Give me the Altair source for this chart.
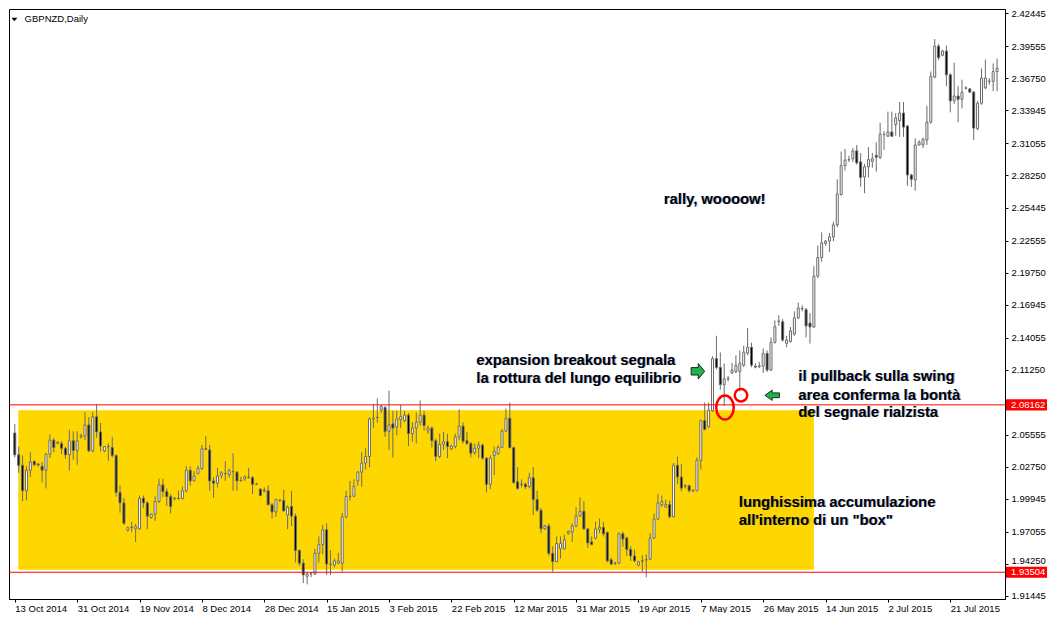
import json
import altair as alt
import pandas as pd

# ---------------- data (GBPNZD daily candles) ----------------
OPEN = [
    2.0570, 2.0379, 2.0287, 2.0064, 2.0244, 2.0322, 2.0298, 2.0279, 2.0244, 2.0384,
    2.0507, 2.0482, 2.0478, 2.0436, 2.0379, 2.0502, 2.0416, 2.0534, 2.0544, 2.0641,
    2.0413, 2.0712, 2.0579, 2.0413, 2.0448, 2.0442, 2.0373, 2.0050, 1.9958, 1.9718,
    1.9746, 1.9730, 1.9730, 1.9999, 1.9958, 1.9830, 1.9859, 1.9970, 2.0116, 2.0056,
    2.0013, 1.9994, 1.9999, 1.9996, 2.0064, 2.0244, 2.0150, 2.0216, 2.0258, 2.0433,
    2.0421, 2.0150, 2.0130, 2.0198, 2.0213, 2.0207, 2.0230, 2.0227, 2.0155, 2.0167,
    2.0184, 2.0178, 2.0121, 2.0078, 2.0067, 2.0064, 1.9941, 1.9879, 1.9979, 1.9979,
    1.9850, 1.9927, 1.9842, 1.9542, 1.9430, 1.9315, 1.9336, 1.9336, 1.9516, 1.9593,
    1.9722, 1.9422, 1.9413, 1.9430, 1.9430, 1.9836, 2.0013, 2.0016, 2.0150, 2.0227,
    2.0307, 2.0364, 2.0693, 2.0707, 2.0772, 2.0793, 2.0584, 2.0650, 2.0622, 2.0687,
    2.0678, 2.0727, 2.0564, 2.0613, 2.0664, 2.0727, 2.0592, 2.0613, 2.0502, 2.0364,
    2.0470, 2.0493, 2.0430, 2.0451, 2.0536, 2.0630, 2.0502, 2.0478, 2.0399, 2.0436,
    2.0464, 2.0350, 2.0121, 2.0373, 2.0387, 2.0444, 2.0587, 2.0699, 2.0441, 2.0142,
    2.0121, 2.0121, 2.0099, 2.0178, 1.9987, 1.9893, 1.9730, 1.9756, 1.9516, 1.9444,
    1.9556, 1.9556, 1.9693, 1.9701, 1.9756, 1.9844, 1.9885, 1.9730, 1.9616, 1.9650,
    1.9727, 1.9744, 1.9699, 1.9459, 1.9430, 1.9430, 1.9687, 1.9650, 1.9550, 1.9493,
    1.9413, 1.9450, 1.9459, 1.9465, 1.9650, 1.9816, 1.9941, 1.9921, 1.9944, 1.9836,
    2.0287, 2.0184, 2.0107, 2.0107, 2.0064, 2.0064, 2.0330, 2.0678, 2.0624, 2.0764,
    2.1221, 2.1144, 2.0993, 2.1044, 2.1095, 2.1107, 2.1107, 2.1164, 2.1270, 2.1321,
    2.1155, 2.1150, 2.1155, 2.1267, 2.1121, 2.1364, 2.1545, 2.1544, 2.1355, 2.1370,
    2.1436, 2.1578, 2.1661, 2.1650, 2.1533, 2.1498, 2.1944, 2.2107, 2.2229, 2.2250,
    2.2287, 2.2392, 2.2658, 2.2912, 2.2964, 2.2970, 2.3041, 2.2944, 2.2812, 2.2901,
    2.2949, 2.3001, 2.2983, 2.3184, 2.3169, 2.3206, 2.3270, 2.3306, 2.3372, 2.3258,
    2.2829, 2.2786, 2.3092, 2.3092, 2.3135, 2.3292, 2.3686, 2.3958, 2.3878, 2.3915,
    2.3707, 2.3478, 2.3521, 2.3492, 2.3592, 2.3583, 2.3555, 2.3235, 2.3458, 2.3592,
    2.3649, 2.3649, 2.3735,
]
HIGH = [
    2.0650, 2.0451, 2.0373, 2.0279, 2.0402, 2.0327, 2.0307, 2.0316, 2.0393, 2.0556,
    2.0527, 2.0498, 2.0498, 2.0451, 2.0599, 2.0584, 2.0584, 2.0564, 2.0755, 2.0710,
    2.0755, 2.0821, 2.0659, 2.0451, 2.0479, 2.0536, 2.0384, 2.0112, 2.0001, 1.9750,
    1.9793, 1.9773, 2.0022, 2.0022, 1.9973, 1.9864, 2.0016, 2.0170, 2.0170, 2.0084,
    2.0036, 2.0007, 2.0064, 2.0101, 2.0279, 2.0279, 2.0236, 2.0284, 2.0464, 2.0544,
    2.0464, 2.0184, 2.0264, 2.0236, 2.0322, 2.0258, 2.0393, 2.0236, 2.0187, 2.0198,
    2.0264, 2.0193, 2.0136, 2.0087, 2.0093, 2.0112, 1.9956, 1.9993, 1.9993, 2.0073,
    1.9936, 2.0064, 1.9864, 1.9550, 1.9464, 1.9350, 1.9350, 1.9556, 1.9664, 1.9765,
    1.9778, 1.9544, 1.9470, 1.9521, 1.9870, 2.0064, 2.0150, 2.0164, 2.0236, 2.0402,
    2.0436, 2.0707, 2.0821, 2.0873, 2.0815, 2.0807, 2.0941, 2.0764, 2.0764, 2.0815,
    2.0764, 2.0744, 2.0664, 2.0750, 2.0855, 2.0764, 2.0635, 2.0627, 2.0521, 2.0564,
    2.0579, 2.0564, 2.0464, 2.0564, 2.0778, 2.0664, 2.0579, 2.0493, 2.0478, 2.0493,
    2.0478, 2.0356, 2.0373, 2.0451, 2.0464, 2.0607, 2.0784, 2.0836, 2.0451, 2.0270,
    2.0164, 2.0136, 2.0221, 2.0270, 2.0064, 1.9913, 1.9765, 1.9778, 1.9579, 1.9664,
    1.9664, 1.9679, 1.9716, 1.9778, 1.9921, 2.0007, 1.9973, 1.9735, 1.9664, 1.9793,
    1.9821, 1.9793, 1.9707, 1.9478, 1.9441, 1.9699, 1.9707, 1.9664, 1.9579, 1.9550,
    1.9450, 1.9499, 1.9507, 1.9693, 1.9864, 2.0036, 2.0022, 1.9987, 1.9979, 2.0307,
    2.0364, 2.0298, 2.0121, 2.0116, 2.0078, 2.0356, 2.0687, 2.0838, 2.0836, 2.1241,
    2.1421, 2.1275, 2.1179, 2.1070, 2.1184, 2.1250, 2.1293, 2.1335, 2.1490, 2.1361,
    2.1179, 2.1192, 2.1310, 2.1293, 2.1407, 2.1556, 2.1601, 2.1567, 2.1421, 2.1498,
    2.1635, 2.1712, 2.1687, 2.1664, 2.1618, 2.2030, 2.2212, 2.2327, 2.2261, 2.2321,
    2.2421, 2.2792, 2.3035, 2.3058, 2.2998, 2.3064, 2.3092, 2.3021, 2.2927, 2.3073,
    2.3021, 2.3115, 2.3287, 2.3212, 2.3384, 2.3384, 2.3372, 2.3469, 2.3469, 2.3270,
    2.2841, 2.3150, 2.3135, 2.3155, 2.3435, 2.3735, 2.4020, 2.3977, 2.3926, 2.3964,
    2.3720, 2.3812, 2.3606, 2.3664, 2.3606, 2.3592, 2.3564, 2.3478, 2.3763, 2.3840,
    2.3678, 2.3806, 2.3849,
]
LOW = [
    2.0356, 2.0221, 1.9973, 1.9979, 2.0184, 2.0279, 2.0273, 2.0136, 2.0084, 2.0350,
    2.0402, 2.0470, 2.0384, 2.0344, 2.0241, 2.0336, 2.0292, 2.0521, 2.0507, 2.0402,
    2.0402, 2.0527, 2.0407, 2.0402, 2.0327, 2.0356, 2.0013, 1.9872, 1.9765, 1.9707,
    1.9701, 1.9616, 1.9725, 1.9915, 1.9727, 1.9821, 1.9801, 1.9956, 2.0007, 1.9930,
    1.9864, 1.9979, 1.9987, 1.9987, 2.0050, 2.0107, 2.0148, 2.0207, 2.0244, 2.0421,
    2.0064, 2.0001, 2.0093, 2.0172, 2.0150, 2.0178, 2.0064, 2.0064, 2.0142, 2.0150,
    2.0170, 2.0036, 2.0116, 2.0016, 2.0050, 1.9939, 1.9821, 1.9836, 1.9964, 1.9885,
    1.9727, 1.9756, 1.9436, 1.9407, 1.9255, 1.9244, 1.9307, 1.9327, 1.9436, 1.9507,
    1.9327, 1.9327, 1.9393, 1.9422, 1.9356, 1.9821, 1.9979, 2.0007, 2.0107, 2.0099,
    2.0250, 2.0270, 2.0613, 2.0659, 2.0744, 2.0536, 2.0421, 2.0356, 2.0550, 2.0613,
    2.0664, 2.0455, 2.0493, 2.0478, 2.0635, 2.0592, 2.0564, 2.0442, 2.0322, 2.0350,
    2.0421, 2.0350, 2.0421, 2.0436, 2.0507, 2.0478, 2.0464, 2.0356, 2.0378, 2.0350,
    2.0335, 2.0050, 2.0078, 2.0202, 2.0378, 2.0436, 2.0579, 2.0436, 2.0121, 2.0073,
    2.0093, 2.0078, 2.0084, 1.9850, 1.9879, 1.9693, 1.9722, 1.9493, 1.9356, 1.9436,
    1.9470, 1.9550, 1.9679, 1.9616, 1.9744, 1.9836, 1.9722, 1.9564, 1.9585, 1.9636,
    1.9693, 1.9664, 1.9436, 1.9413, 1.9413, 1.9422, 1.9573, 1.9493, 1.9450, 1.9436,
    1.9401, 1.9356, 1.9307, 1.9456, 1.9641, 1.9807, 1.9921, 1.9913, 1.9821, 1.9830,
    2.0121, 2.0058, 2.0084, 2.0050, 2.0058, 2.0058, 2.0250, 2.0592, 2.0616, 2.0755,
    2.1127, 2.0950, 2.0807, 2.1021, 2.1087, 2.1095, 2.0935, 2.1147, 2.1250, 2.1147,
    2.1136, 2.1138, 2.1095, 2.1104, 2.1113, 2.1353, 2.1507, 2.1370, 2.1321, 2.1361,
    2.1421, 2.1567, 2.1635, 2.1406, 2.1353, 2.1490, 2.1927, 2.2070, 2.2210, 2.2156,
    2.2250, 2.2372, 2.2649, 2.2869, 2.2944, 2.2944, 2.2921, 2.2726, 2.2670, 2.2807,
    2.2893, 2.2858, 2.2970, 2.3049, 2.3165, 2.3163, 2.3172, 2.3163, 2.3163, 2.2735,
    2.2726, 2.2692, 2.3086, 2.3067, 2.3092, 2.3278, 2.3678, 2.3835, 2.3869, 2.3606,
    2.3378, 2.3452, 2.3292, 2.3412, 2.3578, 2.3549, 2.3135, 2.3221, 2.3444, 2.3581,
    2.3621, 2.3564, 2.3564,
]
CLOSE = [
    2.0379, 2.0287, 2.0064, 2.0244, 2.0316, 2.0292, 2.0290, 2.0244, 2.0384, 2.0507,
    2.0442, 2.0487, 2.0436, 2.0379, 2.0502, 2.0416, 2.0502, 2.0544, 2.0641, 2.0413,
    2.0712, 2.0579, 2.0456, 2.0451, 2.0453, 2.0373, 2.0050, 1.9958, 1.9778, 1.9741,
    1.9741, 1.9750, 1.9999, 1.9958, 1.9842, 1.9859, 1.9970, 2.0116, 2.0056, 2.0013,
    1.9927, 1.9999, 1.9996, 2.0064, 2.0244, 2.0150, 2.0193, 2.0258, 2.0430, 2.0427,
    2.0150, 2.0130, 2.0193, 2.0221, 2.0215, 2.0241, 2.0232, 2.0150, 2.0153, 2.0187,
    2.0182, 2.0121, 2.0119, 2.0022, 2.0061, 1.9941, 1.9879, 1.9987, 1.9981, 1.9887,
    1.9921, 1.9842, 1.9542, 1.9430, 1.9327, 1.9336, 1.9338, 1.9516, 1.9593, 1.9722,
    1.9422, 1.9420, 1.9450, 1.9450, 1.9836, 2.0013, 2.0016, 2.0101, 2.0227, 2.0307,
    2.0364, 2.0693, 2.0699, 2.0705, 2.0802, 2.0584, 2.0641, 2.0613, 2.0693, 2.0712,
    2.0727, 2.0564, 2.0613, 2.0664, 2.0727, 2.0635, 2.0613, 2.0502, 2.0364, 2.0470,
    2.0493, 2.0451, 2.0456, 2.0536, 2.0630, 2.0498, 2.0478, 2.0393, 2.0436, 2.0464,
    2.0350, 2.0121, 2.0350, 2.0407, 2.0444, 2.0587, 2.0699, 2.0441, 2.0136, 2.0084,
    2.0119, 2.0099, 2.0178, 1.9987, 1.9893, 1.9730, 1.9756, 1.9516, 1.9444, 1.9602,
    1.9602, 1.9636, 1.9707, 1.9756, 1.9842, 1.9885, 1.9730, 1.9607, 1.9593, 1.9730,
    1.9744, 1.9687, 1.9450, 1.9422, 1.9432, 1.9687, 1.9641, 1.9550, 1.9493, 1.9450,
    1.9441, 1.9448, 1.9461, 1.9650, 1.9816, 1.9958, 1.9970, 1.9944, 1.9836, 2.0287,
    2.0184, 2.0087, 2.0105, 2.0064, 2.0062, 2.0330, 2.0678, 2.0601, 2.0770, 2.1221,
    2.1144, 2.0993, 2.1044, 2.1048, 2.1121, 2.1164, 2.1181, 2.1278, 2.1321, 2.1164,
    2.1147, 2.1158, 2.1267, 2.1121, 2.1364, 2.1501, 2.1550, 2.1384, 2.1384, 2.1464,
    2.1578, 2.1664, 2.1657, 2.1507, 2.1498, 2.1944, 2.2107, 2.2235, 2.2250, 2.2287,
    2.2392, 2.2664, 2.2912, 2.2961, 2.2962, 2.3041, 2.2935, 2.2807, 2.2901, 2.2964,
    2.2972, 2.2985, 2.3187, 2.3182, 2.3206, 2.3169, 2.3330, 2.3372, 2.3249, 2.2829,
    2.2792, 2.3092, 2.3115, 2.3144, 2.3292, 2.3692, 2.3958, 2.3857, 2.3915, 2.3707,
    2.3478, 2.3521, 2.3492, 2.3555, 2.3590, 2.3555, 2.3240, 2.3458, 2.3678, 2.3678,
    2.3651, 2.3735, 2.3763,
]

CHART_TITLE = "GBPNZD,Daily"
DATE_BAR_INDEX = [0, 16, 32, 48, 64, 80, 96, 112, 128, 144, 160, 176, 192, 208, 224, 240]
DATE_LABELS = ["13 Oct 2014", "31 Oct 2014", "19 Nov 2014", "8 Dec 2014", "28 Dec 2014",
               "15 Jan 2015", "3 Feb 2015", "22 Feb 2015", "12 Mar 2015", "31 Mar 2015",
               "19 Apr 2015", "7 May 2015", "26 May 2015", "14 Jun 2015", "2 Jul 2015",
               "21 Jul 2015"]
# 2.08445 is hidden behind the red 2.08162 price tag in the original, so it is omitted
PRICE_TICKS = [2.42445, 2.39555, 2.36750, 2.33945, 2.31055, 2.28250, 2.25445, 2.22555,
               2.19750, 2.16945, 2.14055, 2.11250, 2.05555, 2.02750, 1.99945,
               1.97055, 1.94250, 1.91445]
LEVELS = [2.08162, 1.93504]

# accumulation box: bar index range and price range
BOX_I = [0.9, 205.0]
BOX_P = [1.93725, 2.07694]

NOTE_TEXT = ["rally, woooow!",
             "expansion breakout segnala", "la rottura del lungo equilibrio",
             "il pullback sulla swing", "area conferma la bontà", "del segnale rialzista",
             "lunghissima accumulazione", 'all\'interno di un "box"']
NOTE_I = [166.5, 118.4, 118.4, 201.0, 201.0, 201.0, 185.75, 185.75]
NOTE_P = [2.2612, 2.1198, 2.1040, 2.1057, 2.0898, 2.0744, 1.9960, 1.9797]

ARROW_RIGHT = [(175.25, 2.1110)]
ARROW_LEFT = [(194.3, 2.0900)]
ELLIPSE_BIG = [(182.2, 2.0793)]
CIRCLE_SMALL = [(186.3, 2.0900)]

# ---------------- chart ----------------
W, H = 996, 590
FONT = "Liberation Sans"
GRAY = "#6b6b6b"

df = pd.DataFrame({"i": list(range(len(OPEN))), "open": OPEN, "high": HIGH,
                   "low": LOW, "close": CLOSE})

xs = alt.Scale(domain=[-0.2, 252.75], nice=False, zero=False)
ys = alt.Scale(domain=[1.9116, 2.4283], nice=False, zero=False)

label_expr = f"{json.dumps(DATE_LABELS)}[indexof({json.dumps(DATE_BAR_INDEX)}, datum.value)]"

x_axis = alt.Axis(values=DATE_BAR_INDEX, labelExpr=label_expr, orient="bottom", title=None,
                  grid=False, labelAlign="left", labelFont=FONT, labelFontSize=9.5,
                  labelColor="black", tickColor="black", tickSize=3, domainColor="black",
                  labelPadding=1, labelFlush=False, labelOverlap=False, labelBound=False)
# the tick label just above the red 1.93504 tag sits on its baseline so the tag does not hide it
y_axis = alt.Axis(values=PRICE_TICKS, format=".5f", orient="right", title=None, grid=False,
                  labelFont=FONT, labelFontSize=9.5, labelColor="black", tickColor="black",
                  tickSize=3, domainColor="black", labelPadding=3, labelOverlap=False,
                  labelFlush=False,
                  labelBaseline={"condition": {"test": "abs(datum.value - 1.9425) < 0.00001",
                                               "value": "alphabetic"},
                                 "value": "middle"})


def X(field, **kw):
    return alt.X(field, scale=xs, axis=x_axis, **kw)


def Y(field, **kw):
    return alt.Y(field, scale=ys, axis=y_axis, **kw)


box_df = pd.DataFrame({"x0": [BOX_I[0]], "x1": [BOX_I[1]], "y0": [BOX_P[0]], "y1": [BOX_P[1]]})
box = alt.Chart(box_df).mark_rect(color="#FFD700").encode(
    x=X("x0:Q"), x2="x1:Q", y=Y("y0:Q"), y2="y1:Q")

base = alt.Chart(df)
wicks = base.mark_rule(color=GRAY, strokeWidth=1, clip=True).encode(
    x=X("i:Q"), y=Y("low:Q"), y2="high:Q")
bodies = base.mark_bar(size=2, stroke=GRAY, strokeWidth=1, clip=True).encode(
    x=X("i:Q"), y=Y("open:Q"), y2="close:Q",
    fill=alt.condition("datum.close >= datum.open", alt.value("white"), alt.value("black")))

lvl_df = pd.DataFrame({"price": LEVELS, "label": [f"{v:.5f}" for v in LEVELS]})
lines = alt.Chart(lvl_df).mark_rule(color="#ff0000", strokeWidth=1).encode(y=Y("price:Q"))

RECT = "M-1,-0.27L1,-0.27L1,0.27L-1,0.27Z"
tag_box = alt.Chart(lvl_df).mark_point(shape=RECT, size=41 * 41, filled=True, fill="#ff0000",
                                        strokeWidth=0, opacity=1).encode(
    x=alt.value(W + 21.5), y=Y("price:Q"))
tag_text = alt.Chart(lvl_df).mark_text(align="left", baseline="middle", font=FONT,
                                       fontSize=9.5, color="white").encode(
    x=alt.value(W + 6), y=Y("price:Q"), text="label:N")


def pts(lst):
    return pd.DataFrame({"i": [p[0] for p in lst], "p": [p[1] for p in lst]})


ARROW_R_PATH = "M-1,-0.55L0.05,-0.55L0.05,-1.15L1,0L0.05,1.15L0.05,0.55L-1,0.55Z"
ARROW_L_PATH = "M1,-0.33L0,-0.33L0,-0.7L-1,0L0,0.7L0,0.33L1,0.33Z"
ELLIPSE_PATH = "M0,-1.38A1,1.38 0 1,1 0,1.38A1,1.38 0 1,1 0,-1.38Z"

arrow_r = alt.Chart(pts(ARROW_RIGHT)).mark_point(
    shape=ARROW_R_PATH, size=13.5 * 13.5, filled=True, fill="#22b14c", stroke="#0c3415",
    strokeWidth=1, opacity=1).encode(x=X("i:Q"), y=Y("p:Q"))
arrow_l = alt.Chart(pts(ARROW_LEFT)).mark_point(
    shape=ARROW_L_PATH, size=14.5 * 14.5, filled=True, fill="#22b14c", stroke="#0c3415",
    strokeWidth=1, opacity=1).encode(x=X("i:Q"), y=Y("p:Q"))
ellipse = alt.Chart(pts(ELLIPSE_BIG)).mark_point(
    shape=ELLIPSE_PATH, size=17.5 * 17.5, filled=False, stroke="#ff0000", strokeWidth=2.5,
    opacity=1).encode(x=X("i:Q"), y=Y("p:Q"))
circle = alt.Chart(pts(CIRCLE_SMALL)).mark_point(
    shape="circle", size=12.5 * 12.5, filled=False, stroke="#ff0000", strokeWidth=2.5,
    opacity=1).encode(x=X("i:Q"), y=Y("p:Q"))

notes_df = pd.DataFrame({"text": NOTE_TEXT, "i": NOTE_I, "p": NOTE_P})
note_shadow = alt.Chart(notes_df).mark_text(
    align="left", baseline="middle", font=FONT, fontSize=14.8, fontWeight="bold",
    color="#2a4fb0", dx=1, opacity=0.45).encode(x=X("i:Q"), y=Y("p:Q"), text="text:N")
notes = alt.Chart(notes_df).mark_text(
    align="left", baseline="middle", font=FONT, fontSize=14.8, fontWeight="bold",
    color="black").encode(x=X("i:Q"), y=Y("p:Q"), text="text:N")

title_df = pd.DataFrame({"t": [CHART_TITLE]})
title_text = alt.Chart(title_df).mark_text(
    align="left", baseline="middle", font=FONT, fontSize=9.5, color="black").encode(
    x=alt.value(15.6), y=alt.value(10.3), text="t:N")
title_tri = alt.Chart(title_df).mark_point(
    shape="M-1,-0.55L1,-0.55L0,0.55Z", size=36, filled=True, color="black",
    opacity=1).encode(x=alt.value(5.4), y=alt.value(10.5))

chart = alt.layer(
    box, wicks, bodies, lines, ellipse, circle, arrow_r, arrow_l,
    note_shadow, notes, tag_box, tag_text, title_tri, title_text,
).properties(width=W, height=H, padding=0, background="white").configure_view(
    stroke="black", strokeWidth=1)

chart.save("out.html", embed_options={"renderer": "svg", "actions": False})
